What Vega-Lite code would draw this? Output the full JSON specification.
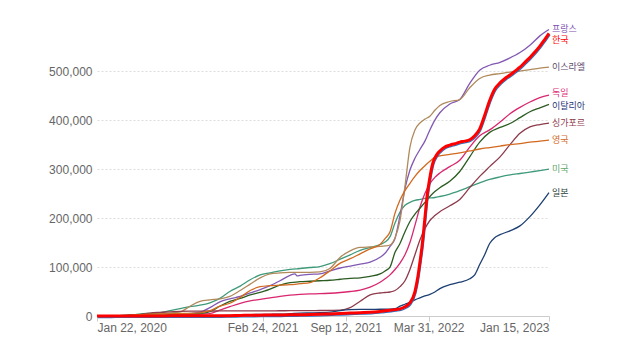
{
"$schema": "https://vega.github.io/schema/vega-lite/v6.json",
"width": 452, "height": 286, "autosize": "none",
"padding": {"left": 97, "top": 30, "right": 91, "bottom": 44},
"background": "white",
"config": {"view": {"stroke": null}, "font": "Liberation Sans"},
"datasets": {
"cases": [
{"date":"2020-01-22","country":"미국","value":0},{"date":"2020-02-22","country":"미국","value":0},{"date":"2020-03-17","country":"미국","value":100},{"date":"2020-04-10","country":"미국","value":1500},{"date":"2020-05-05","country":"미국","value":4000},{"date":"2020-05-28","country":"미국","value":5500},{"date":"2020-06-22","country":"미국","value":7000},{"date":"2020-07-16","country":"미국","value":11000},{"date":"2020-08-09","country":"미국","value":15000},{"date":"2020-09-02","country":"미국","value":19000},{"date":"2020-09-26","country":"미국","value":22000},{"date":"2020-10-20","country":"미국","value":27000},{"date":"2020-11-13","country":"미국","value":36000},{"date":"2020-12-07","country":"미국","value":50000},{"date":"2021-01-01","country":"미국","value":61000},{"date":"2021-01-25","country":"미국","value":74000},{"date":"2021-02-18","country":"미국","value":84000},{"date":"2021-03-14","country":"미국","value":88000},{"date":"2021-04-07","country":"미국","value":92000},{"date":"2021-05-01","country":"미국","value":95000},{"date":"2021-05-25","country":"미국","value":97000},{"date":"2021-06-18","country":"미국","value":99000},{"date":"2021-07-12","country":"미국","value":101000},{"date":"2021-08-05","country":"미국","value":107000},{"date":"2021-08-30","country":"미국","value":116000},{"date":"2021-09-23","country":"미국","value":125000},{"date":"2021-10-17","country":"미국","value":134000},{"date":"2021-11-10","country":"미국","value":140000},{"date":"2021-12-04","country":"미국","value":146000},{"date":"2021-12-16","country":"미국","value":151000},{"date":"2021-12-28","country":"미국","value":162000},{"date":"2022-01-09","country":"미국","value":190000},{"date":"2022-01-21","country":"미국","value":212000},{"date":"2022-02-02","country":"미국","value":226000},{"date":"2022-02-14","country":"미국","value":232000},{"date":"2022-02-26","country":"미국","value":236000},{"date":"2022-03-10","country":"미국","value":238000},{"date":"2022-03-22","country":"미국","value":240000},{"date":"2022-04-03","country":"미국","value":241000},{"date":"2022-04-15","country":"미국","value":242000},{"date":"2022-04-27","country":"미국","value":244000},{"date":"2022-05-21","country":"미국","value":249000},{"date":"2022-06-14","country":"미국","value":256000},{"date":"2022-07-08","country":"미국","value":264000},{"date":"2022-08-01","country":"미국","value":272000},{"date":"2022-08-25","country":"미국","value":279000},{"date":"2022-09-19","country":"미국","value":284000},{"date":"2022-10-13","country":"미국","value":288000},{"date":"2022-11-06","country":"미국","value":291000},{"date":"2022-11-30","country":"미국","value":294000},{"date":"2022-12-24","country":"미국","value":297000},{"date":"2023-01-15","country":"미국","value":300000},

{"date":"2020-01-22","country":"프랑스","value":0},{"date":"2020-02-22","country":"프랑스","value":0},{"date":"2020-03-17","country":"프랑스","value":100},{"date":"2020-04-10","country":"프랑스","value":1500},{"date":"2020-05-05","country":"프랑스","value":2200},{"date":"2020-05-28","country":"프랑스","value":2300},{"date":"2020-06-22","country":"프랑스","value":2500},{"date":"2020-07-16","country":"프랑스","value":3000},{"date":"2020-08-09","country":"프랑스","value":3800},{"date":"2020-09-02","country":"프랑스","value":5500},{"date":"2020-09-26","country":"프랑스","value":8000},{"date":"2020-10-20","country":"프랑스","value":17000},{"date":"2020-11-13","country":"프랑스","value":29000},{"date":"2020-12-07","country":"프랑스","value":35000},{"date":"2021-01-01","country":"프랑스","value":40000},{"date":"2021-01-25","country":"프랑스","value":47000},{"date":"2021-02-18","country":"프랑스","value":54000},{"date":"2021-03-14","country":"프랑스","value":62000},{"date":"2021-04-07","country":"프랑스","value":72000},{"date":"2021-05-01","country":"프랑스","value":83000},{"date":"2021-05-13","country":"프랑스","value":86000},{"date":"2021-05-18","country":"프랑스","value":82000},{"date":"2021-05-25","country":"프랑스","value":83000},{"date":"2021-06-18","country":"프랑스","value":85000},{"date":"2021-07-12","country":"프랑스","value":86000},{"date":"2021-08-05","country":"프랑스","value":92000},{"date":"2021-08-30","country":"프랑스","value":98000},{"date":"2021-09-23","country":"프랑스","value":102000},{"date":"2021-10-17","country":"프랑스","value":106000},{"date":"2021-11-10","country":"프랑스","value":110000},{"date":"2021-12-04","country":"프랑스","value":120000},{"date":"2021-12-16","country":"프랑스","value":128000},{"date":"2021-12-28","country":"프랑스","value":142000},{"date":"2022-01-09","country":"프랑스","value":158000},{"date":"2022-01-21","country":"프랑스","value":205000},{"date":"2022-02-02","country":"프랑스","value":260000},{"date":"2022-02-14","country":"프랑스","value":298000},{"date":"2022-02-26","country":"프랑스","value":322000},{"date":"2022-03-10","country":"프랑스","value":340000},{"date":"2022-03-22","country":"프랑스","value":357000},{"date":"2022-04-03","country":"프랑스","value":380000},{"date":"2022-04-15","country":"프랑스","value":400000},{"date":"2022-04-27","country":"프랑스","value":415000},{"date":"2022-05-21","country":"프랑스","value":433000},{"date":"2022-06-14","country":"프랑스","value":442000},{"date":"2022-07-08","country":"프랑스","value":475000},{"date":"2022-08-01","country":"프랑스","value":502000},{"date":"2022-08-25","country":"프랑스","value":512000},{"date":"2022-09-19","country":"프랑스","value":518000},{"date":"2022-10-13","country":"프랑스","value":527000},{"date":"2022-11-06","country":"프랑스","value":538000},{"date":"2022-11-30","country":"프랑스","value":553000},{"date":"2022-12-24","country":"프랑스","value":572000},{"date":"2023-01-15","country":"프랑스","value":585000},

{"date":"2020-01-22","country":"독일","value":0},{"date":"2020-02-22","country":"독일","value":0},{"date":"2020-03-17","country":"독일","value":100},{"date":"2020-04-10","country":"독일","value":1300},{"date":"2020-05-05","country":"독일","value":2000},{"date":"2020-05-28","country":"독일","value":2200},{"date":"2020-06-22","country":"독일","value":2300},{"date":"2020-07-16","country":"독일","value":2500},{"date":"2020-08-09","country":"독일","value":2700},{"date":"2020-09-02","country":"독일","value":3000},{"date":"2020-09-26","country":"독일","value":3500},{"date":"2020-10-20","country":"독일","value":5000},{"date":"2020-11-13","country":"독일","value":12000},{"date":"2020-12-07","country":"독일","value":19000},{"date":"2021-01-01","country":"독일","value":26000},{"date":"2021-01-25","country":"독일","value":31000},{"date":"2021-02-18","country":"독일","value":34000},{"date":"2021-03-14","country":"독일","value":37000},{"date":"2021-04-07","country":"독일","value":40000},{"date":"2021-05-01","country":"독일","value":42500},{"date":"2021-05-25","country":"독일","value":44000},{"date":"2021-06-18","country":"독일","value":45000},{"date":"2021-07-12","country":"독일","value":45500},{"date":"2021-08-05","country":"독일","value":46500},{"date":"2021-08-30","country":"독일","value":48000},{"date":"2021-09-23","country":"독일","value":50000},{"date":"2021-10-17","country":"독일","value":53000},{"date":"2021-11-10","country":"독일","value":59000},{"date":"2021-12-04","country":"독일","value":69000},{"date":"2021-12-16","country":"독일","value":76000},{"date":"2021-12-28","country":"독일","value":84000},{"date":"2022-01-09","country":"독일","value":95000},{"date":"2022-01-21","country":"독일","value":108000},{"date":"2022-02-02","country":"독일","value":125000},{"date":"2022-02-14","country":"독일","value":150000},{"date":"2022-02-26","country":"독일","value":185000},{"date":"2022-03-10","country":"독일","value":222000},{"date":"2022-03-22","country":"독일","value":250000},{"date":"2022-04-03","country":"독일","value":270000},{"date":"2022-04-15","country":"독일","value":283000},{"date":"2022-04-27","country":"독일","value":292000},{"date":"2022-05-21","country":"독일","value":305000},{"date":"2022-06-14","country":"독일","value":318000},{"date":"2022-07-08","country":"독일","value":345000},{"date":"2022-08-01","country":"독일","value":368000},{"date":"2022-08-25","country":"독일","value":380000},{"date":"2022-09-19","country":"독일","value":396000},{"date":"2022-10-13","country":"독일","value":413000},{"date":"2022-11-06","country":"독일","value":426000},{"date":"2022-11-30","country":"독일","value":437000},{"date":"2022-12-24","country":"독일","value":446000},{"date":"2023-01-15","country":"독일","value":451000},

{"date":"2020-01-22","country":"이탈리아","value":0},{"date":"2020-02-22","country":"이탈리아","value":0},{"date":"2020-03-17","country":"이탈리아","value":500},{"date":"2020-04-10","country":"이탈리아","value":2500},{"date":"2020-05-05","country":"이탈리아","value":3500},{"date":"2020-05-28","country":"이탈리아","value":3800},{"date":"2020-06-22","country":"이탈리아","value":4000},{"date":"2020-07-16","country":"이탈리아","value":4100},{"date":"2020-08-09","country":"이탈리아","value":4300},{"date":"2020-09-02","country":"이탈리아","value":4700},{"date":"2020-09-26","country":"이탈리아","value":5300},{"date":"2020-10-20","country":"이탈리아","value":9000},{"date":"2020-11-13","country":"이탈리아","value":20000},{"date":"2020-12-07","country":"이탈리아","value":30000},{"date":"2021-01-01","country":"이탈리아","value":36000},{"date":"2021-01-25","country":"이탈리아","value":43000},{"date":"2021-02-18","country":"이탈리아","value":48000},{"date":"2021-03-14","country":"이탈리아","value":55000},{"date":"2021-04-07","country":"이탈리아","value":63000},{"date":"2021-05-01","country":"이탈리아","value":68000},{"date":"2021-05-25","country":"이탈리아","value":70000},{"date":"2021-06-18","country":"이탈리아","value":71000},{"date":"2021-07-12","country":"이탈리아","value":72000},{"date":"2021-08-05","country":"이탈리아","value":73000},{"date":"2021-08-30","country":"이탈리아","value":75000},{"date":"2021-09-23","country":"이탈리아","value":77000},{"date":"2021-10-17","country":"이탈리아","value":78000},{"date":"2021-11-10","country":"이탈리아","value":81000},{"date":"2021-12-04","country":"이탈리아","value":86000},{"date":"2021-12-16","country":"이탈리아","value":92000},{"date":"2021-12-28","country":"이탈리아","value":100000},{"date":"2022-01-09","country":"이탈리아","value":130000},{"date":"2022-01-21","country":"이탈리아","value":148000},{"date":"2022-02-02","country":"이탈리아","value":172000},{"date":"2022-02-14","country":"이탈리아","value":193000},{"date":"2022-02-26","country":"이탈리아","value":208000},{"date":"2022-03-10","country":"이탈리아","value":220000},{"date":"2022-03-22","country":"이탈리아","value":232000},{"date":"2022-04-03","country":"이탈리아","value":244000},{"date":"2022-04-15","country":"이탈리아","value":254000},{"date":"2022-04-27","country":"이탈리아","value":262000},{"date":"2022-05-21","country":"이탈리아","value":275000},{"date":"2022-06-14","country":"이탈리아","value":295000},{"date":"2022-07-08","country":"이탈리아","value":325000},{"date":"2022-08-01","country":"이탈리아","value":355000},{"date":"2022-08-25","country":"이탈리아","value":375000},{"date":"2022-09-19","country":"이탈리아","value":385000},{"date":"2022-10-13","country":"이탈리아","value":393000},{"date":"2022-11-06","country":"이탈리아","value":405000},{"date":"2022-11-30","country":"이탈리아","value":417000},{"date":"2022-12-24","country":"이탈리아","value":425000},{"date":"2023-01-15","country":"이탈리아","value":432000},

{"date":"2020-01-22","country":"이스라엘","value":0},{"date":"2020-02-22","country":"이스라엘","value":0},{"date":"2020-03-17","country":"이스라엘","value":100},{"date":"2020-04-10","country":"이스라엘","value":1000},{"date":"2020-05-05","country":"이스라엘","value":1800},{"date":"2020-05-28","country":"이스라엘","value":2000},{"date":"2020-06-22","country":"이스라엘","value":2500},{"date":"2020-07-16","country":"이스라엘","value":6000},{"date":"2020-08-09","country":"이스라엘","value":8000},{"date":"2020-09-02","country":"이스라엘","value":20000},{"date":"2020-09-26","country":"이스라엘","value":30000},{"date":"2020-10-20","country":"이스라엘","value":33000},{"date":"2020-11-13","country":"이스라엘","value":35000},{"date":"2020-12-07","country":"이스라엘","value":40000},{"date":"2021-01-01","country":"이스라엘","value":52000},{"date":"2021-01-25","country":"이스라엘","value":65000},{"date":"2021-02-18","country":"이스라엘","value":78000},{"date":"2021-03-14","country":"이스라엘","value":86000},{"date":"2021-04-07","country":"이스라엘","value":88000},{"date":"2021-05-01","country":"이스라엘","value":89000},{"date":"2021-05-25","country":"이스라엘","value":89000},{"date":"2021-06-18","country":"이스라엘","value":89000},{"date":"2021-07-12","country":"이스라엘","value":90000},{"date":"2021-08-05","country":"이스라엘","value":97000},{"date":"2021-08-30","country":"이스라엘","value":120000},{"date":"2021-09-23","country":"이스라엘","value":133000},{"date":"2021-10-17","country":"이스라엘","value":140000},{"date":"2021-11-10","country":"이스라엘","value":141000},{"date":"2021-12-04","country":"이스라엘","value":142000},{"date":"2021-12-16","country":"이스라엘","value":143000},{"date":"2021-12-28","country":"이스라엘","value":145000},{"date":"2022-01-09","country":"이스라엘","value":160000},{"date":"2022-01-21","country":"이스라엘","value":195000},{"date":"2022-02-02","country":"이스라엘","value":265000},{"date":"2022-02-14","country":"이스라엘","value":345000},{"date":"2022-02-26","country":"이스라엘","value":380000},{"date":"2022-03-10","country":"이스라엘","value":394000},{"date":"2022-03-22","country":"이스라엘","value":402000},{"date":"2022-04-03","country":"이스라엘","value":408000},{"date":"2022-04-15","country":"이스라엘","value":420000},{"date":"2022-04-27","country":"이스라엘","value":430000},{"date":"2022-05-21","country":"이스라엘","value":438000},{"date":"2022-06-14","country":"이스라엘","value":442000},{"date":"2022-07-08","country":"이스라엘","value":466000},{"date":"2022-08-01","country":"이스라엘","value":485000},{"date":"2022-08-25","country":"이스라엘","value":492000},{"date":"2022-09-19","country":"이스라엘","value":495000},{"date":"2022-10-13","country":"이스라엘","value":498000},{"date":"2022-11-06","country":"이스라엘","value":500000},{"date":"2022-11-30","country":"이스라엘","value":503000},{"date":"2022-12-24","country":"이스라엘","value":506000},{"date":"2023-01-15","country":"이스라엘","value":508000},

{"date":"2020-01-22","country":"싱가포르","value":0},{"date":"2020-02-22","country":"싱가포르","value":0},{"date":"2020-03-17","country":"싱가포르","value":100},{"date":"2020-04-10","country":"싱가포르","value":500},{"date":"2020-05-05","country":"싱가포르","value":3000},{"date":"2020-05-28","country":"싱가포르","value":6000},{"date":"2020-06-22","country":"싱가포르","value":7500},{"date":"2020-07-16","country":"싱가포르","value":8500},{"date":"2020-08-09","country":"싱가포르","value":9500},{"date":"2020-09-02","country":"싱가포르","value":10000},{"date":"2020-09-26","country":"싱가포르","value":10000},{"date":"2020-10-20","country":"싱가포르","value":10200},{"date":"2020-11-13","country":"싱가포르","value":10300},{"date":"2020-12-07","country":"싱가포르","value":10400},{"date":"2021-01-01","country":"싱가포르","value":10500},{"date":"2021-01-25","country":"싱가포르","value":10500},{"date":"2021-02-18","country":"싱가포르","value":10600},{"date":"2021-03-14","country":"싱가포르","value":10600},{"date":"2021-04-07","country":"싱가포르","value":10700},{"date":"2021-05-01","country":"싱가포르","value":10800},{"date":"2021-05-25","country":"싱가포르","value":10900},{"date":"2021-06-18","country":"싱가포르","value":11000},{"date":"2021-07-12","country":"싱가포르","value":11200},{"date":"2021-08-05","country":"싱가포르","value":11500},{"date":"2021-08-30","country":"싱가포르","value":12000},{"date":"2021-09-23","country":"싱가포르","value":17000},{"date":"2021-10-17","country":"싱가포르","value":30000},{"date":"2021-11-10","country":"싱가포르","value":43000},{"date":"2021-12-04","country":"싱가포르","value":47000},{"date":"2021-12-16","country":"싱가포르","value":48000},{"date":"2021-12-28","country":"싱가포르","value":49000},{"date":"2022-01-09","country":"싱가포르","value":52000},{"date":"2022-01-21","country":"싱가포르","value":60000},{"date":"2022-02-02","country":"싱가포르","value":72000},{"date":"2022-02-14","country":"싱가포르","value":95000},{"date":"2022-02-26","country":"싱가포르","value":125000},{"date":"2022-03-10","country":"싱가포르","value":155000},{"date":"2022-03-22","country":"싱가포르","value":178000},{"date":"2022-04-03","country":"싱가포르","value":195000},{"date":"2022-04-15","country":"싱가포르","value":205000},{"date":"2022-04-27","country":"싱가포르","value":213000},{"date":"2022-05-21","country":"싱가포르","value":225000},{"date":"2022-06-14","country":"싱가포르","value":238000},{"date":"2022-07-08","country":"싱가포르","value":262000},{"date":"2022-08-01","country":"싱가포르","value":285000},{"date":"2022-08-25","country":"싱가포르","value":305000},{"date":"2022-09-19","country":"싱가포르","value":325000},{"date":"2022-10-13","country":"싱가포르","value":350000},{"date":"2022-11-06","country":"싱가포르","value":373000},{"date":"2022-11-30","country":"싱가포르","value":386000},{"date":"2022-12-24","country":"싱가포르","value":391000},{"date":"2023-01-15","country":"싱가포르","value":394000},

{"date":"2020-01-22","country":"영국","value":0},{"date":"2020-02-22","country":"영국","value":0},{"date":"2020-03-17","country":"영국","value":100},{"date":"2020-04-10","country":"영국","value":1300},{"date":"2020-05-05","country":"영국","value":3000},{"date":"2020-05-28","country":"영국","value":4000},{"date":"2020-06-22","country":"영국","value":4300},{"date":"2020-07-16","country":"영국","value":4500},{"date":"2020-08-09","country":"영국","value":5000},{"date":"2020-09-02","country":"영국","value":5300},{"date":"2020-09-26","country":"영국","value":6500},{"date":"2020-10-20","country":"영국","value":11000},{"date":"2020-11-13","country":"영국","value":20000},{"date":"2020-12-07","country":"영국","value":26000},{"date":"2021-01-01","country":"영국","value":38000},{"date":"2021-01-25","country":"영국","value":52000},{"date":"2021-02-18","country":"영국","value":60000},{"date":"2021-03-14","country":"영국","value":62000},{"date":"2021-04-07","country":"영국","value":63000},{"date":"2021-05-01","country":"영국","value":64000},{"date":"2021-05-25","country":"영국","value":66000},{"date":"2021-06-18","country":"영국","value":68000},{"date":"2021-07-12","country":"영국","value":78000},{"date":"2021-08-05","country":"영국","value":92000},{"date":"2021-08-30","country":"영국","value":108000},{"date":"2021-09-23","country":"영국","value":117000},{"date":"2021-10-17","country":"영국","value":127000},{"date":"2021-11-10","country":"영국","value":137000},{"date":"2021-12-04","country":"영국","value":146000},{"date":"2021-12-16","country":"영국","value":158000},{"date":"2021-12-28","country":"영국","value":172000},{"date":"2022-01-09","country":"영국","value":210000},{"date":"2022-01-21","country":"영국","value":237000},{"date":"2022-02-02","country":"영국","value":256000},{"date":"2022-02-14","country":"영국","value":271000},{"date":"2022-02-26","country":"영국","value":285000},{"date":"2022-03-10","country":"영국","value":297000},{"date":"2022-03-22","country":"영국","value":307000},{"date":"2022-04-03","country":"영국","value":316000},{"date":"2022-04-15","country":"영국","value":324000},{"date":"2022-04-27","country":"영국","value":327000},{"date":"2022-05-21","country":"영국","value":330000},{"date":"2022-06-14","country":"영국","value":333000},{"date":"2022-07-08","country":"영국","value":337000},{"date":"2022-08-01","country":"영국","value":341000},{"date":"2022-08-25","country":"영국","value":344000},{"date":"2022-09-19","country":"영국","value":347000},{"date":"2022-10-13","country":"영국","value":350000},{"date":"2022-11-06","country":"영국","value":352000},{"date":"2022-11-30","country":"영국","value":355000},{"date":"2022-12-24","country":"영국","value":357000},{"date":"2023-01-15","country":"영국","value":359000},

{"date":"2020-01-22","country":"일본","value":0},{"date":"2020-02-22","country":"일본","value":0},{"date":"2020-03-17","country":"일본","value":10},{"date":"2020-04-10","country":"일본","value":50},{"date":"2020-05-05","country":"일본","value":120},{"date":"2020-05-28","country":"일본","value":130},{"date":"2020-06-22","country":"일본","value":140},{"date":"2020-07-16","country":"일본","value":190},{"date":"2020-08-09","country":"일본","value":380},{"date":"2020-09-02","country":"일본","value":560},{"date":"2020-09-26","country":"일본","value":640},{"date":"2020-10-20","country":"일본","value":740},{"date":"2020-11-13","country":"일본","value":900},{"date":"2020-12-07","country":"일본","value":1300},{"date":"2021-01-01","country":"일본","value":1900},{"date":"2021-01-25","country":"일본","value":2800},{"date":"2021-02-18","country":"일본","value":3300},{"date":"2021-03-14","country":"일본","value":3500},{"date":"2021-04-07","country":"일본","value":3800},{"date":"2021-05-01","country":"일본","value":4700},{"date":"2021-05-25","country":"일본","value":5800},{"date":"2021-06-18","country":"일본","value":6200},{"date":"2021-07-12","country":"일본","value":6600},{"date":"2021-08-05","country":"일본","value":7800},{"date":"2021-08-30","country":"일본","value":11000},{"date":"2021-09-23","country":"일본","value":13000},{"date":"2021-10-17","country":"일본","value":13600},{"date":"2021-11-10","country":"일본","value":13700},{"date":"2021-12-04","country":"일본","value":13750},{"date":"2021-12-16","country":"일본","value":13800},{"date":"2021-12-28","country":"일본","value":13900},{"date":"2022-01-09","country":"일본","value":15000},{"date":"2022-01-21","country":"일본","value":20000},{"date":"2022-02-02","country":"일본","value":24000},{"date":"2022-02-14","country":"일본","value":28000},{"date":"2022-02-26","country":"일본","value":33000},{"date":"2022-03-10","country":"일본","value":37000},{"date":"2022-03-22","country":"일본","value":41000},{"date":"2022-04-03","country":"일본","value":44000},{"date":"2022-04-15","country":"일본","value":49000},{"date":"2022-04-27","country":"일본","value":56000},{"date":"2022-05-21","country":"일본","value":64000},{"date":"2022-06-14","country":"일본","value":69000},{"date":"2022-07-08","country":"일본","value":76000},{"date":"2022-07-20","country":"일본","value":84000},{"date":"2022-08-01","country":"일본","value":105000},{"date":"2022-08-13","country":"일본","value":125000},{"date":"2022-08-25","country":"일본","value":148000},{"date":"2022-09-06","country":"일본","value":160000},{"date":"2022-09-19","country":"일본","value":166000},{"date":"2022-10-13","country":"일본","value":174000},{"date":"2022-11-06","country":"일본","value":184000},{"date":"2022-11-30","country":"일본","value":203000},{"date":"2022-12-24","country":"일본","value":227000},{"date":"2023-01-15","country":"일본","value":252000},

{"date":"2020-01-22","country":"한국","value":0},{"date":"2020-02-22","country":"한국","value":8},{"date":"2020-03-17","country":"한국","value":160},{"date":"2020-04-10","country":"한국","value":200},{"date":"2020-05-05","country":"한국","value":210},{"date":"2020-05-28","country":"한국","value":220},{"date":"2020-06-22","country":"한국","value":240},{"date":"2020-07-16","country":"한국","value":265},{"date":"2020-08-09","country":"한국","value":285},{"date":"2020-09-02","country":"한국","value":390},{"date":"2020-09-26","country":"한국","value":450},{"date":"2020-10-20","country":"한국","value":490},{"date":"2020-11-13","country":"한국","value":550},{"date":"2020-12-07","country":"한국","value":730},{"date":"2021-01-01","country":"한국","value":1200},{"date":"2021-01-25","country":"한국","value":1450},{"date":"2021-02-18","country":"한국","value":1690},{"date":"2021-03-14","country":"한국","value":1880},{"date":"2021-04-07","country":"한국","value":2070},{"date":"2021-05-01","country":"한국","value":2380},{"date":"2021-05-25","country":"한국","value":2660},{"date":"2021-06-18","country":"한국","value":2910},{"date":"2021-07-12","country":"한국","value":3400},{"date":"2021-08-05","country":"한국","value":4200},{"date":"2021-08-30","country":"한국","value":5100},{"date":"2021-09-23","country":"한국","value":5900},{"date":"2021-10-17","country":"한국","value":6800},{"date":"2021-11-10","country":"한국","value":7500},{"date":"2021-12-04","country":"한국","value":9300},{"date":"2021-12-16","country":"한국","value":10500},{"date":"2021-12-28","country":"한국","value":11700},{"date":"2022-01-09","country":"한국","value":13000},{"date":"2022-01-21","country":"한국","value":14500},{"date":"2022-02-02","country":"한국","value":19000},{"date":"2022-02-14","country":"한국","value":27000},{"date":"2022-02-26","country":"한국","value":50000},{"date":"2022-03-05","country":"한국","value":80000},{"date":"2022-03-10","country":"한국","value":110000},{"date":"2022-03-15","country":"한국","value":142000},{"date":"2022-03-22","country":"한국","value":200000},{"date":"2022-03-27","country":"한국","value":243000},{"date":"2022-04-03","country":"한국","value":283000},{"date":"2022-04-10","country":"한국","value":312000},{"date":"2022-04-20","country":"한국","value":330000},{"date":"2022-04-27","country":"한국","value":337000},{"date":"2022-05-09","country":"한국","value":345000},{"date":"2022-05-21","country":"한국","value":349000},{"date":"2022-06-07","country":"한국","value":353000},{"date":"2022-06-14","country":"한국","value":355000},{"date":"2022-06-26","country":"한국","value":357000},{"date":"2022-07-08","country":"한국","value":360000},{"date":"2022-07-20","country":"한국","value":368000},{"date":"2022-08-01","country":"한국","value":382000},{"date":"2022-08-13","country":"한국","value":410000},{"date":"2022-08-25","country":"한국","value":440000},{"date":"2022-09-06","country":"한국","value":463000},{"date":"2022-09-19","country":"한국","value":476000},{"date":"2022-10-01","country":"한국","value":485000},{"date":"2022-10-13","country":"한국","value":492000},{"date":"2022-10-25","country":"한국","value":500000},{"date":"2022-11-06","country":"한국","value":508000},{"date":"2022-11-18","country":"한국","value":518000},{"date":"2022-11-30","country":"한국","value":528000},{"date":"2022-12-12","country":"한국","value":539000},{"date":"2022-12-24","country":"한국","value":551000},{"date":"2023-01-05","country":"한국","value":565000},{"date":"2023-01-15","country":"한국","value":577000}
]
},
"data": {"name": "cases"},
"encoding": {
  "x": {"field": "date", "type": "temporal",
        "scale": {"type": "utc", "domain": [{"year": 2020, "month": 1, "date": 22, "utc": true}, {"year": 2023, "month": 1, "date": 15, "utc": true}]},
        "axis": {"title": null, "grid": false, "format": "%b %d, %Y", "labelFlush": true, "labelOverlap": false,
                 "values": [{"year": 2020, "month": 1, "date": 22, "utc": true}, {"year": 2021, "month": 2, "date": 24, "utc": true}, {"year": 2021, "month": 9, "date": 12, "utc": true}, {"year": 2022, "month": 3, "date": 31, "utc": true}, {"year": 2023, "month": 1, "date": 15, "utc": true}],
                 "domainColor": "#cccccc", "tickColor": "#cccccc", "tickSize": 5, "labelPadding": 1,
                 "labelColor": "#666666", "labelFontSize": 12, "labelFont": "Liberation Sans"}},
  "y": {"field": "value", "type": "quantitative",
        "scale": {"domain": [0, 584000], "nice": false},
        "axis": {"title": null, "values": [0, 100000, 200000, 300000, 400000, 500000], "format": ",.0f",
                 "domain": false, "ticks": false, "labelPadding": 5, "grid": true, "gridColor": "#dddddd", "gridDash": [2, 2],
                 "labelColor": "#666666", "labelFontSize": 12, "labelFont": "Liberation Sans"}}
},
"layer": [
  {"transform": [{"filter": "datum.country !== '한국'"}],
   "mark": {"type": "line", "strokeWidth": 1.3, "interpolate": "monotone"},
   "encoding": {"color": {"field": "country", "type": "nominal", "legend": null,
      "scale": {"domain": ["프랑스", "이스라엘", "독일", "이탈리아", "싱가포르", "영국", "미국", "일본"],
                "range": ["#8259b2", "#b08a5c", "#d9276f", "#2c5c22", "#8e3b4c", "#d2691e", "#3f9a7a", "#1e3f73"]}}}},
  {"transform": [{"filter": "datum.country === '한국'"}],
   "mark": {"type": "line", "strokeWidth": 1.3, "color": "#2f6fc0", "interpolate": "monotone", "xOffset": 1, "yOffset": 1.5},
   "encoding": {}},
  {"transform": [{"filter": "datum.country === '한국'"}],
   "mark": {"type": "line", "strokeWidth": 3, "color": "#ff0000", "interpolate": "monotone"},
   "encoding": {}},
  {"transform": [{"filter": "time(datum.date) === utc(2023, 0, 15) && datum.country !== '한국' && datum.country !== '프랑스' && datum.country !== '독일' && datum.country !== '이탈리아'"}],
   "mark": {"type": "text", "align": "left", "baseline": "middle", "dx": 3, "font": "Noto Sans CJK KR", "fontSize": 9},
   "encoding": {"text": {"field": "country"},
      "color": {"field": "country", "type": "nominal", "legend": null,
      "scale": {"domain": ["이스라엘", "싱가포르", "영국", "미국", "일본"],
                "range": ["#5e4a6e", "#8e3b4c", "#d2691e", "#5fa86a", "#2a3f36"]}}}},
  {"transform": [{"filter": "time(datum.date) === utc(2023, 0, 15) && datum.country === '프랑스'"}],
   "mark": {"type": "text", "align": "left", "baseline": "middle", "dx": 3, "dy": -1, "font": "Noto Sans CJK KR", "fontSize": 9, "color": "#7d4fb0"},
   "encoding": {"text": {"field": "country"}}},
  {"transform": [{"filter": "time(datum.date) === utc(2023, 0, 15) && datum.country === '한국'"}],
   "mark": {"type": "text", "align": "left", "baseline": "middle", "dx": 3, "dy": 7, "font": "Noto Sans CJK KR", "fontSize": 9, "color": "#ff0000"},
   "encoding": {"text": {"field": "country"}}},
  {"transform": [{"filter": "time(datum.date) === utc(2023, 0, 15) && datum.country === '독일'"}],
   "mark": {"type": "text", "align": "left", "baseline": "middle", "dx": 3, "dy": -2, "font": "Noto Sans CJK KR", "fontSize": 9, "color": "#e0307a"},
   "encoding": {"text": {"field": "country"}}},
  {"transform": [{"filter": "time(datum.date) === utc(2023, 0, 15) && datum.country === '이탈리아'"}],
   "mark": {"type": "text", "align": "left", "baseline": "middle", "dx": 3, "dy": 2, "font": "Noto Sans CJK KR", "fontSize": 9, "color": "#1f3577"},
   "encoding": {"text": {"field": "country"}}}
],
"resolve": {"scale": {"color": "independent"}}
}
